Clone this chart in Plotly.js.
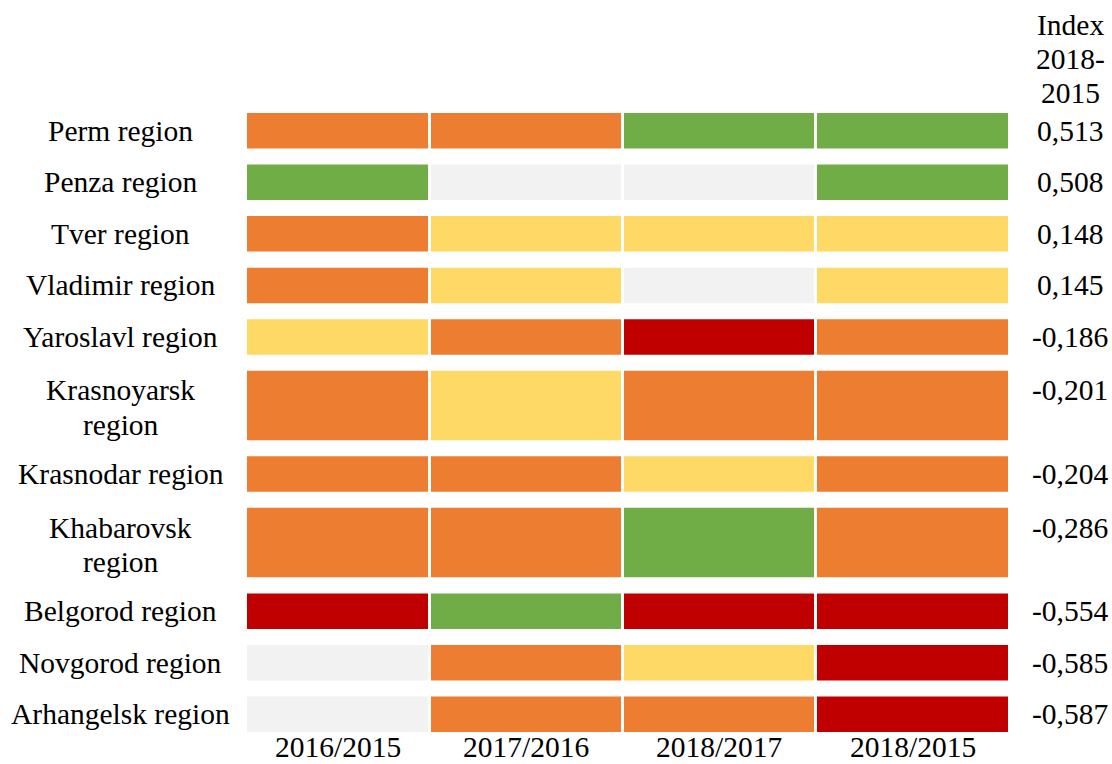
<!DOCTYPE html>
<html>
<head>
<meta charset="utf-8">
<script src="https://cdn.plot.ly/plotly-3.0.1.min.js"></script>
<style>html,body{margin:0;padding:0;background:#fff;}#chart{width:1112px;height:764px;}</style>
</head>
<body>
<div id="chart"></div>
<script>
// ---- data ----
const regions = ['Perm region','Penza region','Tver region','Vladimir region','Yaroslavl region',
  'Krasnoyarsk<br>region','Krasnodar region','Khabarovsk<br>region','Belgorod region','Novgorod region','Arhangelsk region'];
const periods = ['2016/2015','2017/2016','2018/2017','2018/2015'];
const status2016_2015 = ['orange','green','orange','orange','yellow','orange','orange','orange','red','grey','grey'];
const status2017_2016 = ['orange','grey','yellow','yellow','orange','yellow','orange','orange','green','orange','orange'];
const status2018_2017 = ['green','grey','yellow','grey','red','orange','yellow','green','red','yellow','orange'];
const status2018_2015 = ['green','green','yellow','yellow','orange','orange','orange','orange','red','red','red'];
const indexValues = [0.513, 0.508, 0.148, 0.145, -0.186, -0.201, -0.204, -0.286, -0.554, -0.585, -0.587];
const indexTitle = 'Index<br>2018-<br>2015';

// ---- styles ----
const palette = {orange:'#ED7D31', green:'#70AD47', grey:'#F2F2F2', yellow:'#FFD966', red:'#C00000'};
const FONT = '"Liberation Serif", "Times New Roman", serif';
const FS = 29.5;
const LINE = 34, GAP = 16;
const colWidths = [181, 190, 190, 191];
const COLGAP = 3;
const W = 1112, H = 764, ML = 247, MR = 104, MT = 105, MB = 24;

// ---- layout computation ----
const statuses = [status2016_2015, status2017_2016, status2018_2017, status2018_2015];
const nLines = regions.map(r => r.split('<br>').length);
const barH = nLines.map(n => n * LINE + 1.5);
const centers = [];
let cursor = 0;
barH.forEach(h => { const top = cursor + GAP / 2; centers.push(top + h / 2); cursor += h + GAP; });
const total = cursor;
const bases = [];
let xc = 0;
colWidths.forEach(w => { bases.push(xc); xc += w + COLGAP; });
const xTotal = xc - COLGAP;

const traces = statuses.map((st, c) => ({
  type: 'bar', orientation: 'h',
  y: centers, x: regions.map(() => colWidths[c]), base: regions.map(() => bases[c]),
  width: barH,
  marker: {color: st.map(s => palette[s]), line: {width: 0}},
  hoverinfo: 'skip', showlegend: false, name: periods[c]
}));

const plotW = W - ML - MR, plotH = H - MT - MB;
const font = {family: FONT, size: FS, color: '#000'};
const annotations = [];
const labelX = (121 - ML) / plotW;
const valueX = (1070 - ML) / plotW;
regions.forEach((r, i) => {
  const lines = r.split('<br>');
  lines.forEach((ln, k) => {
    annotations.push({xref: 'paper', yref: 'y', x: labelX, y: centers[i] + (k - (lines.length - 1) / 2) * LINE + (lines.length > 1 ? 2 : 0),
      text: ln, showarrow: false, xanchor: 'center', yanchor: 'middle', font: font});
  });
  const firstY = centers[i] - (lines.length - 1) / 2 * LINE + (lines.length > 1 ? 2 : 0);
  annotations.push({xref: 'paper', yref: 'y', x: valueX, y: firstY,
    text: indexValues[i].toFixed(3).replace('.', ','), showarrow: false, xanchor: 'center', yanchor: 'middle', font: font});
});
// header of index column (line centers at 25, 59, 93 px from top)
indexTitle.split('<br>').forEach((ln, k) => {
  const py = 25 + k * LINE;
  annotations.push({xref: 'paper', yref: 'paper', x: valueX, y: 1 + (MT - py) / plotH,
    text: ln, showarrow: false, xanchor: 'center', yanchor: 'middle', font: font});
});
// column labels just below the cells
periods.forEach((p, c) => {
  annotations.push({xref: 'x', yref: 'paper', x: bases[c] + colWidths[c] / 2, y: -(747 - (MT + plotH)) / plotH,
    text: p, showarrow: false, xanchor: 'center', yanchor: 'middle', borderpad: 0, font: font});
});

const layout = {
  width: W, height: H,
  margin: {l: ML, r: MR, t: MT, b: MB, pad: 0},
  paper_bgcolor: '#fff', plot_bgcolor: '#fff',
  barmode: 'overlay',
  xaxis: {range: [0, xTotal], showgrid: false, zeroline: false, showline: false, ticks: '',
    showticklabels: false, automargin: false, fixedrange: true},
  yaxis: {range: [total, 0], showgrid: false, zeroline: false, showline: false, showticklabels: false, ticks: '', fixedrange: true},
  annotations: annotations,
  font: {family: FONT}
};
Plotly.newPlot('chart', traces, layout, {displayModeBar: false, staticPlot: true});
</script>
</body>
</html>
